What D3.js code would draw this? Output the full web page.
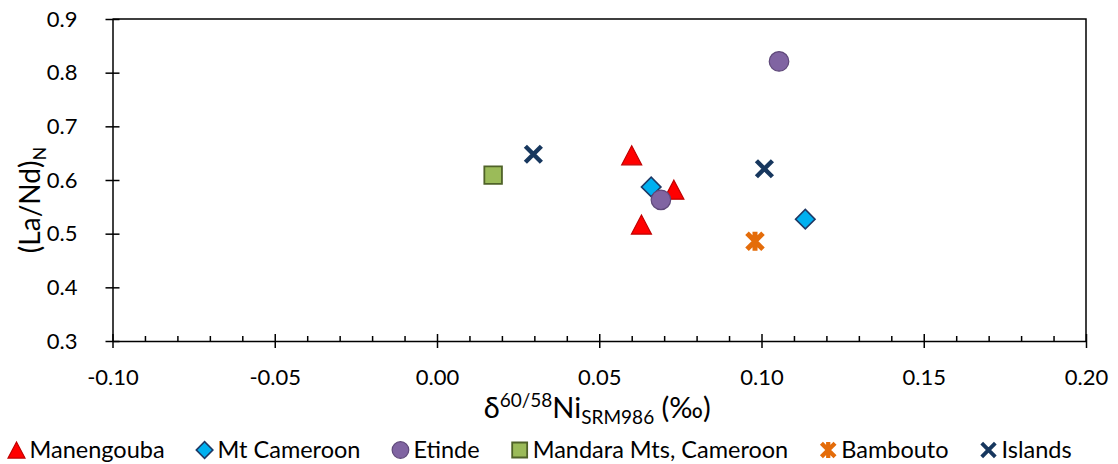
<!DOCTYPE html>
<html>
<head>
<meta charset="utf-8">
<script src="https://cdn.jsdelivr.net/npm/d3@7"></script>
<style>
  html, body { margin: 0; padding: 0; background: #fff; }
  svg { display: block; font-family: Lato, "Open Sans", sans-serif; }
</style>
</head>
<body>
<svg id="chart" width="1118" height="464"></svg>
<script>
// Series: nickel isotope composition vs chondrite-normalised La/Nd
const seriesNames = ["Manengouba", "Mt Cameroon", "Etinde", "Mandara Mts, Cameroon", "Bambouto", "Islands"];
const manengoubaX = [0.060, 0.073, 0.063];
const manengoubaY = [0.646, 0.582, 0.517];
const mtCameroonX = [0.066, 0.1135];
const mtCameroonY = [0.587, 0.527];
const etindeX = [0.069, 0.1054];
const etindeY = [0.563, 0.821];
const mandaraX = [0.0173];
const mandaraY = [0.609];
const bamboutoX = [0.098];
const bamboutoY = [0.486];
const islandsX = [0.0297, 0.1009];
const islandsY = [0.648, 0.621];

const xTicks = [-0.10, -0.05, 0.00, 0.05, 0.10, 0.15, 0.20];
const xMinorTicks = [-0.09, -0.08, -0.07, -0.06, -0.04, -0.03, -0.02, -0.01,
                     0.01, 0.02, 0.03, 0.04, 0.06, 0.07, 0.08, 0.09,
                     0.11, 0.12, 0.13, 0.14, 0.16, 0.17, 0.18, 0.19];
const yTicks = [0.3, 0.4, 0.5, 0.6, 0.7, 0.8, 0.9];

const svg = d3.select("#chart");
const plot = { left: 112.5, right: 1086, top: 19, bottom: 341 };

const x = d3.scaleLinear().domain([-0.10, 0.20]).range([plot.left, plot.right]);
const y = d3.scaleLinear().domain([0.3, 0.9]).range([plot.bottom, plot.top]);

const loc = d3.formatLocale({ decimal: ".", thousands: ",", grouping: [3], currency: ["", ""], minus: "-" });
const fx = loc.format(".2f");
const fy = loc.format(".1f");

// Frame: top and right borders of the plot area
svg.append("path")
  .attr("d", `M${plot.left},${plot.top}H${plot.right}V${plot.bottom}`)
  .attr("fill", "none").attr("stroke", "#000").attr("stroke-width", 1.5);

// Minor x ticks (inside only)
const xMinor = svg.append("g").attr("transform", `translate(0,${plot.bottom})`)
  .call(d3.axisBottom(x).tickValues(xMinorTicks).tickSize(-5).tickFormat(""));
xMinor.select(".domain").remove();
xMinor.selectAll(".tick line").attr("stroke", "#000").attr("stroke-width", 1.5);

// Major x axis with crossing ticks
const xAxis = svg.append("g").attr("transform", `translate(0,${plot.bottom})`)
  .call(d3.axisBottom(x).tickValues(xTicks).tickSize(7).tickSizeOuter(0).tickPadding(21).tickFormat(fx));
xAxis.select(".domain").attr("stroke", "#000").attr("stroke-width", 1.5);
xAxis.selectAll(".tick line").attr("y1", -7).attr("y2", 7).attr("stroke", "#000").attr("stroke-width", 1.5);
xAxis.selectAll(".tick text").attr("font-family", "Lato, sans-serif").attr("font-size", 22).attr("fill", "#000");

// y axis with crossing ticks
const yAxis = svg.append("g").attr("transform", `translate(${plot.left},0)`)
  .call(d3.axisLeft(y).tickValues(yTicks).tickSize(7).tickSizeOuter(0).tickPadding(28).tickFormat(fy));
yAxis.select(".domain").attr("stroke", "#000").attr("stroke-width", 1.5);
yAxis.selectAll(".tick line").attr("x1", -7).attr("x2", 7).attr("stroke", "#000").attr("stroke-width", 1.5);
yAxis.selectAll(".tick text").attr("font-family", "Lato, sans-serif").attr("font-size", 22).attr("fill", "#000");

// Axis titles
const xTitle = svg.append("text")
  .attr("x", (plot.left + plot.right) / 2 - 2).attr("y", 418)
  .attr("text-anchor", "middle").attr("font-size", 29).attr("fill", "#000");
xTitle.append("tspan").text("δ");
xTitle.append("tspan").attr("font-size", 19).attr("dy", -11).text("60/58");
xTitle.append("tspan").attr("dy", 11).text("Ni");
xTitle.append("tspan").attr("font-size", 19).attr("dy", 6).text("SRM986");
xTitle.append("tspan").attr("dy", -6).text(" (‰)");

const yTitle = svg.append("text")
  .attr("transform", `translate(40,${(plot.top + plot.bottom) / 2 + 20}) rotate(-90)`)
  .attr("text-anchor", "middle").attr("font-size", 28).attr("fill", "#000");
yTitle.append("tspan").text("(La/Nd)");
yTitle.append("tspan").attr("font-size", 18).attr("dy", 6).text("N");

// Marker drawing helpers (centred on 0,0, scaled by k)
const markerStyles = [
  { // triangle
    draw: (g, k) => g.append("path")
      .attr("d", `M0,${-9.5 * k}L${10 * k},${9.5 * k}L${-10 * k},${9.5 * k}Z`)
      .attr("fill", "#ff0000").attr("stroke", "#c00000").attr("stroke-width", 1.2)
  },
  { // diamond
    draw: (g, k) => g.append("path")
      .attr("d", d3.symbol(d3.symbolSquare, 190 * k * k)())
      .attr("transform", "rotate(45)")
      .attr("fill", "#00b0f0").attr("stroke", "#1f3864").attr("stroke-width", 1.6)
  },
  { // circle
    draw: (g, k) => g.append("path")
      .attr("d", d3.symbol(d3.symbolCircle, 300 * k * k)())
      .attr("fill", "#8064a2").attr("stroke", "#5f497a").attr("stroke-width", 1.2)
  },
  { // square
    draw: (g, k) => g.append("path")
      .attr("d", d3.symbol(d3.symbolSquare, 310 * k * k)())
      .attr("fill", "#9bbb59").attr("stroke", "#4f6228").attr("stroke-width", 1.8)
  },
  { // star (X with vertical bar)
    draw: (g, k) => {
      const r = 8 * k;
      g.append("path")
        .attr("d", `M${-r},${-r}L${r},${r}M${r},${-r}L${-r},${r}M0,${-r - 1.5 * k}V${r + 1.5 * k}`)
        .attr("fill", "none").attr("stroke", "#e46c0a").attr("stroke-width", 5 * Math.max(k, 0.85));
    }
  },
  { // x
    draw: (g, k) => {
      const r = 8 * k;
      g.append("path")
        .attr("d", `M${-r},${-r}L${r},${r}M${r},${-r}L${-r},${r}`)
        .attr("fill", "none").attr("stroke", "#17375e").attr("stroke-width", 4.5 * Math.max(k, 0.85));
    }
  }
];

const seriesData = [
  d3.zip(manengoubaX, manengoubaY),
  d3.zip(mtCameroonX, mtCameroonY),
  d3.zip(etindeX, etindeY),
  d3.zip(mandaraX, mandaraY),
  d3.zip(bamboutoX, bamboutoY),
  d3.zip(islandsX, islandsY)
];

// Points
const pointsLayer = svg.append("g");
seriesData.forEach((pts, i) => {
  pts.forEach(([vx, vy]) => {
    const g = pointsLayer.append("g").attr("transform", `translate(${x(vx)},${y(vy)})`);
    markerStyles[i].draw(g, 1);
  });
});

// Legend
const legend = svg.append("g");
let cx = 16.5;
const legendY = 450;
seriesNames.forEach((name, i) => {
  const m = legend.append("g").attr("transform", `translate(${cx},${legendY})`);
  markerStyles[i].draw(m, 0.85);
  const t = legend.append("text")
    .attr("x", cx + 13).attr("y", legendY + 8)
    .attr("font-size", 23.5).attr("fill", "#000").text(name);
  cx = cx + 13 + t.node().getComputedTextLength() + 40;
});
</script>
</body>
</html>
